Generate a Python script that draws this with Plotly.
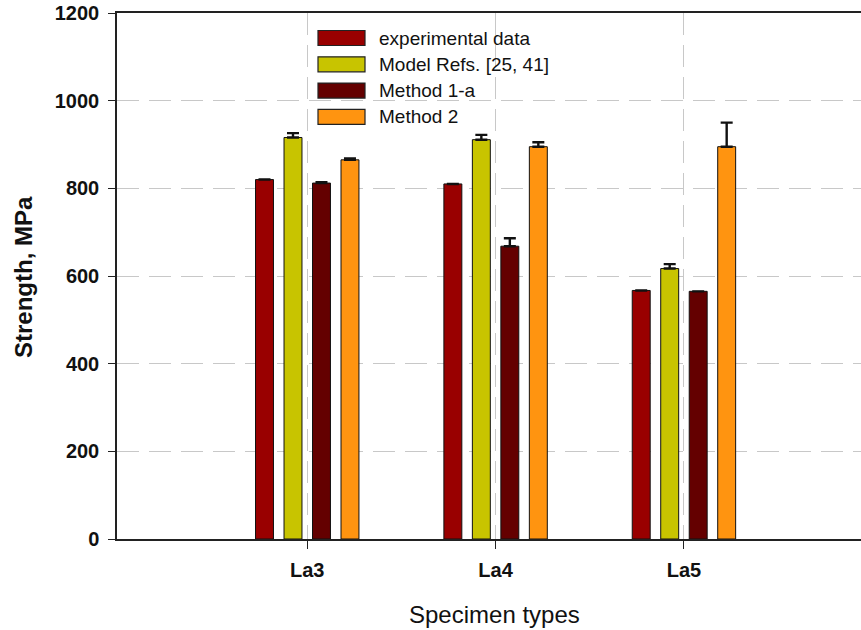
import plotly.graph_objects as go

categories = ["La3", "La4", "La5"]
series_names = ["experimental data", "Model Refs. [25, 41]", "Method 1-a", "Method 2"]
experimental = [820, 810, 567]
experimental_err = [0, 0, 0]
model_refs = [916, 911, 617]
model_refs_err = [10, 11, 10]
method_1a = [812, 668, 565]
method_1a_err = [2, 18, 0]
method_2 = [865, 895, 895]
method_2_err = [3, 10, 55]

colors = ["#990000", "#c8c400", "#640000", "#ff9410"]
values = [experimental, model_refs, method_1a, method_2]
errors = [experimental_err, model_refs_err, method_1a_err, method_2_err]

W, H = 861, 630
L, R, T, B = 117, 0, 13, 91
pw, ph = W - L - R, H - T - B
FONT = "Liberation Sans, Arial, sans-serif"


def px_x(px):
    return (px - L) / pw


def px_y(py):
    return (H - B - py) / ph


fig = go.Figure()
for name, vals, errs, col in zip(series_names, values, errors, colors):
    fig.add_trace(go.Bar(
        x=categories, y=vals, name=name, showlegend=False,
        marker=dict(color=col, line=dict(color="#111111", width=1)),
        error_y=dict(type="data", array=errs, arrayminus=[0] * len(errs),
                     symmetric=False, color="#111111", thickness=2.4, width=6,
                     visible=True),
    ))

# manual legend (wide swatches like the original)
shapes = []
annotations = []
for i, (name, col) in enumerate(zip(series_names, colors)):
    cy = 38 + i * 26.3
    shapes.append(dict(type="rect", xref="paper", yref="paper",
                       x0=px_x(318), x1=px_x(365), y0=px_y(cy + 7.5), y1=px_y(cy - 7.5),
                       fillcolor=col, line=dict(color="#222222", width=1.2)))
    annotations.append(dict(xref="paper", yref="paper", x=px_x(377), y=px_y(cy),
                            xanchor="left", yanchor="middle", showarrow=False,
                            text=name, font=dict(family=FONT, size=19, color="#111111")))

annotations.append(dict(xref="paper", yref="paper", x=px_x(494), y=px_y(614),
                        xanchor="center", yanchor="middle", showarrow=False,
                        text="Specimen types",
                        font=dict(family=FONT, size=24, color="#111111")))
annotations.append(dict(xref="paper", yref="paper", x=px_x(23), y=px_y(277),
                        xanchor="center", yanchor="middle", showarrow=False,
                        textangle=-90, text="<b>Strength, MPa</b>",
                        font=dict(family=FONT, size=24, color="#111111")))

fig.update_layout(
    width=W, height=H,
    paper_bgcolor="white", plot_bgcolor="white",
    barmode="group", bargap=0.395, bargroupgap=0.37,
    margin=dict(l=L, r=R, t=T, b=B, autoexpand=False),
    font=dict(family=FONT, color="#111111"),
    showlegend=False,
    shapes=shapes,
    annotations=annotations,
)
fig.update_xaxes(
    range=[-1.01, 2.94], automargin=False,
    showline=True, linecolor="#222222", linewidth=1.5,
    mirror=True, ticks="outside", ticklen=8, tickcolor="#222222", tickwidth=1.2,
    ticklabelstandoff=4,
    showgrid=True, gridcolor="#c8c8c8", griddash="22px,10px", gridwidth=1.2,
    tickfont=dict(size=20, family=FONT, weight="bold", color="#111111"),
)
fig.update_yaxes(
    range=[0, 1200], dtick=200, automargin=False,
    showline=True, linecolor="#222222", linewidth=1.5,
    ticks="outside", ticklen=7, tickcolor="#222222", tickwidth=1.2,
    ticklabelstandoff=5,
    showgrid=True, gridcolor="#c8c8c8", griddash="22px,10px", gridwidth=1.2,
    zeroline=False,
    tickfont=dict(size=20, family=FONT, weight="bold", color="#111111"),
)

fig.write_html(
    "out.html",
    config={"displayModeBar": False},
    post_script="document.body.style.margin='0';document.body.style.padding='0';",
)
